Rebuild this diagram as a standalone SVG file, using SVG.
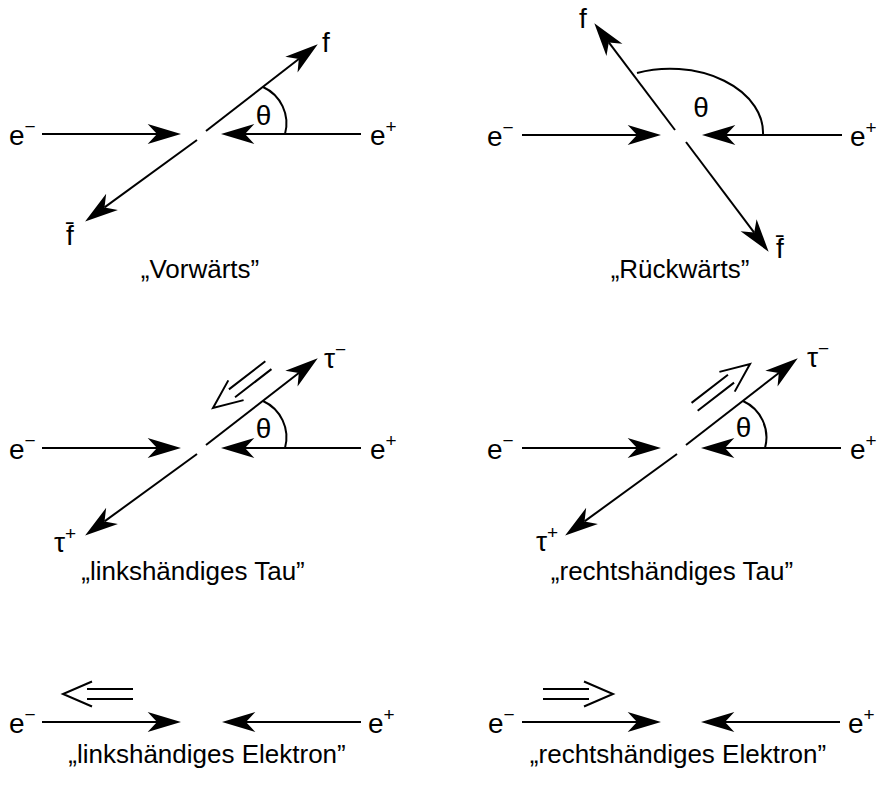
<svg xmlns="http://www.w3.org/2000/svg" width="877" height="787" viewBox="0 0 877 787">
<style>
text{font-family:"Liberation Sans",Arial,sans-serif;font-size:26px;fill:#000}
.lb{font-size:28px}
.c{text-anchor:middle}
.sup{font-size:19px}
.ln{stroke:#000;stroke-width:2;fill:none}
.ar{stroke:#000;stroke-width:2;fill:none;marker-end:url(#ah)}
.hel{stroke:#000;stroke-width:2;fill:none}
</style>
<defs>
<marker id="ah" markerUnits="userSpaceOnUse" markerWidth="40" markerHeight="40" viewBox="-10 -10 30 20" refX="0" refY="0" orient="auto" overflow="visible">
<path d="M18,0 L-7,-7.5 L0,0 L-7,7.5 Z" fill="#000"/>
</marker>
<g id="helL">
<path d="M24,-5 H70 M24,5 H70 M29,-12.5 L0,0 L29,12.5"/>
</g>
</defs>

<!-- Panel 1: Vorwärts -->
<g id="panel1">
<g id="p1-connectors">
<path class="ar" d="M42,134 H157"/>
<path class="ar" d="M361,134 H245"/>
<path class="ar" d="M206,131 L298.8,59"/>
<path class="ar" d="M197,140 L104.5,207.4"/>
<path class="ln" d="M263,87 A40,40 0 0 1 285,134"/>
</g>
<g id="p1-labels">
<text class="lb" x="9" y="145">e<tspan class="sup" dy="-12">−</tspan></text>
<text class="lb" x="370" y="145">e<tspan class="sup" dy="-12">+</tspan></text>
<text class="lb" x="322" y="52">f</text>
<text class="lb" x="66" y="245">f&#x0304;</text>
<text class="lb c" x="263.5" y="125">θ</text>
<text class="c" x="200" y="278">„Vorwärts”</text>
</g>
</g>

<!-- Panel 2: Rückwärts -->
<g id="panel2">
<g id="p2-connectors">
<path class="ar" d="M522,135 H637"/>
<path class="ar" d="M842,135 H726"/>
<path class="ar" d="M675,130 L608.8,42.4"/>
<path class="ar" d="M686,142 L754.2,232.6"/>
<path class="ln" d="M637,73 A93,64 0 0 1 763,135"/>
</g>
<g id="p2-labels">
<text class="lb" x="487" y="146">e<tspan class="sup" dy="-12">−</tspan></text>
<text class="lb" x="850" y="146">e<tspan class="sup" dy="-12">+</tspan></text>
<text class="lb" x="579" y="28">f</text>
<text class="lb" x="776" y="258">f&#x0304;</text>
<text class="lb c" x="701" y="117">θ</text>
<text class="c" x="680" y="278">„Rückwärts”</text>
</g>
</g>

<!-- Panel 3: linkshändiges Tau -->
<g id="panel3">
<g id="p3-connectors">
<path class="ar" d="M42,448 H157"/>
<path class="ar" d="M361,448 H245"/>
<path class="ar" d="M206,445 L298.8,373"/>
<path class="ar" d="M197,454 L104.5,521.4"/>
<path class="ln" d="M263,401 A40,40 0 0 1 285,448"/>
<use href="#helL" class="hel" transform="translate(213,408) rotate(-37.7)"/>
</g>
<g id="p3-labels">
<text class="lb" x="9" y="459">e<tspan class="sup" dy="-12">−</tspan></text>
<text class="lb" x="370" y="459">e<tspan class="sup" dy="-12">+</tspan></text>
<text class="lb" x="324" y="368">τ<tspan class="sup" dy="-12">−</tspan></text>
<text class="lb" x="54" y="552">τ<tspan class="sup" dy="-12">+</tspan></text>
<text class="lb c" x="263.5" y="438">θ</text>
<text class="c" x="193" y="580">„linkshändiges Tau”</text>
</g>
</g>

<!-- Panel 4: rechtshändiges Tau -->
<g id="panel4">
<g id="p4-connectors">
<path class="ar" d="M522,448 H637"/>
<path class="ar" d="M841,448 H725"/>
<path class="ar" d="M686,445 L778.8,373"/>
<path class="ar" d="M677,454 L584.5,521.4"/>
<path class="ln" d="M743,401 A40,40 0 0 1 765,448"/>
<use href="#helL" class="hel" transform="translate(750,364) rotate(142.3)"/>
</g>
<g id="p4-labels">
<text class="lb" x="487" y="459">e<tspan class="sup" dy="-12">−</tspan></text>
<text class="lb" x="850" y="459">e<tspan class="sup" dy="-12">+</tspan></text>
<text class="lb" x="807" y="367">τ<tspan class="sup" dy="-12">−</tspan></text>
<text class="lb" x="536" y="551">τ<tspan class="sup" dy="-12">+</tspan></text>
<text class="lb c" x="743.5" y="437">θ</text>
<text class="c" x="672" y="580">„rechtshändiges Tau”</text>
</g>
</g>

<!-- Panel 5: linkshändiges Elektron -->
<g id="panel5">
<g id="p5-connectors">
<path class="ar" d="M42,722 H157"/>
<path class="ar" d="M361,722 H246"/>
<use href="#helL" class="hel" transform="translate(63,694)"/>
</g>
<g id="p5-labels">
<text class="lb" x="9" y="733">e<tspan class="sup" dy="-12">−</tspan></text>
<text class="lb" x="368" y="733">e<tspan class="sup" dy="-12">+</tspan></text>
<text class="c" x="207" y="763">„linkshändiges Elektron”</text>
</g>
</g>

<!-- Panel 6: rechtshändiges Elektron -->
<g id="panel6">
<g id="p6-connectors">
<path class="ar" d="M522,722 H637"/>
<path class="ar" d="M840,722 H725"/>
<use href="#helL" class="hel" transform="translate(613,694) rotate(180)"/>
</g>
<g id="p6-labels">
<text class="lb" x="488" y="733">e<tspan class="sup" dy="-12">−</tspan></text>
<text class="lb" x="848" y="733">e<tspan class="sup" dy="-12">+</tspan></text>
<text class="c" x="678" y="763">„rechtshändiges Elektron”</text>
</g>
</g>
</svg>
